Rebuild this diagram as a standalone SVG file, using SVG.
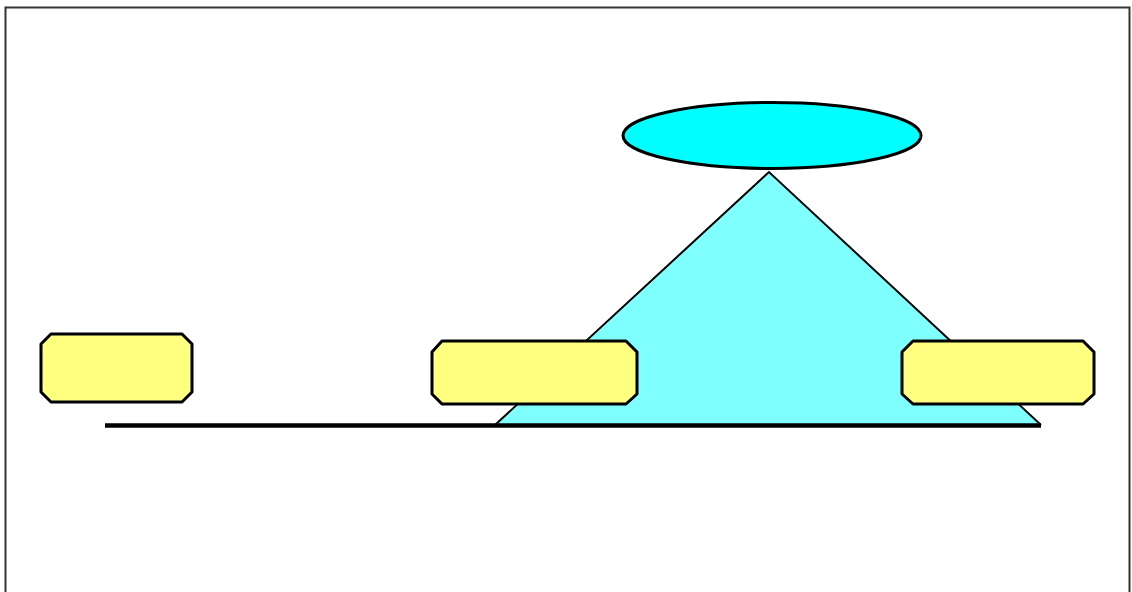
<svg xmlns="http://www.w3.org/2000/svg" width="1132" height="592" viewBox="0 0 1132 592">
<style>
.box{fill:#FFFF80;stroke:#000;stroke-width:3;stroke-linejoin:round}
</style>
<rect width="1132" height="592" fill="#fff"/>
<rect x="5.5" y="7.5" width="1124" height="600" fill="none" stroke="#333" stroke-width="2"/>
<g id="cone">
<polygon points="769,172 495,425 1041,425" fill="#80FFFF"/>
<polyline points="495,425 769,172 1041,425" fill="none" stroke="#000" stroke-width="2"/>
</g>
<g id="ellipse">
<ellipse cx="772" cy="135.5" rx="149" ry="33" fill="#00FFFF" stroke="#000" stroke-width="3"/>
</g>
<g id="connectors">
<line x1="105" y1="425.5" x2="1041" y2="425.5" stroke="#000" stroke-width="4.5"/>
</g>
<g id="box1">
<polygon class="box" points="51,334 182,334 192,344 192,392 182,402 51,402 41,392 41,344"/>
</g>
<g id="box2">
<polygon class="box" points="442,341 626,341 637,352 637,394 626,404 442,404 432,394 432,352"/>
</g>
<g id="box3">
<polygon class="box" points="913,341 1083,341 1094,352 1094,394 1083,404 913,404 902,394 902,352"/>
</g>
</svg>
